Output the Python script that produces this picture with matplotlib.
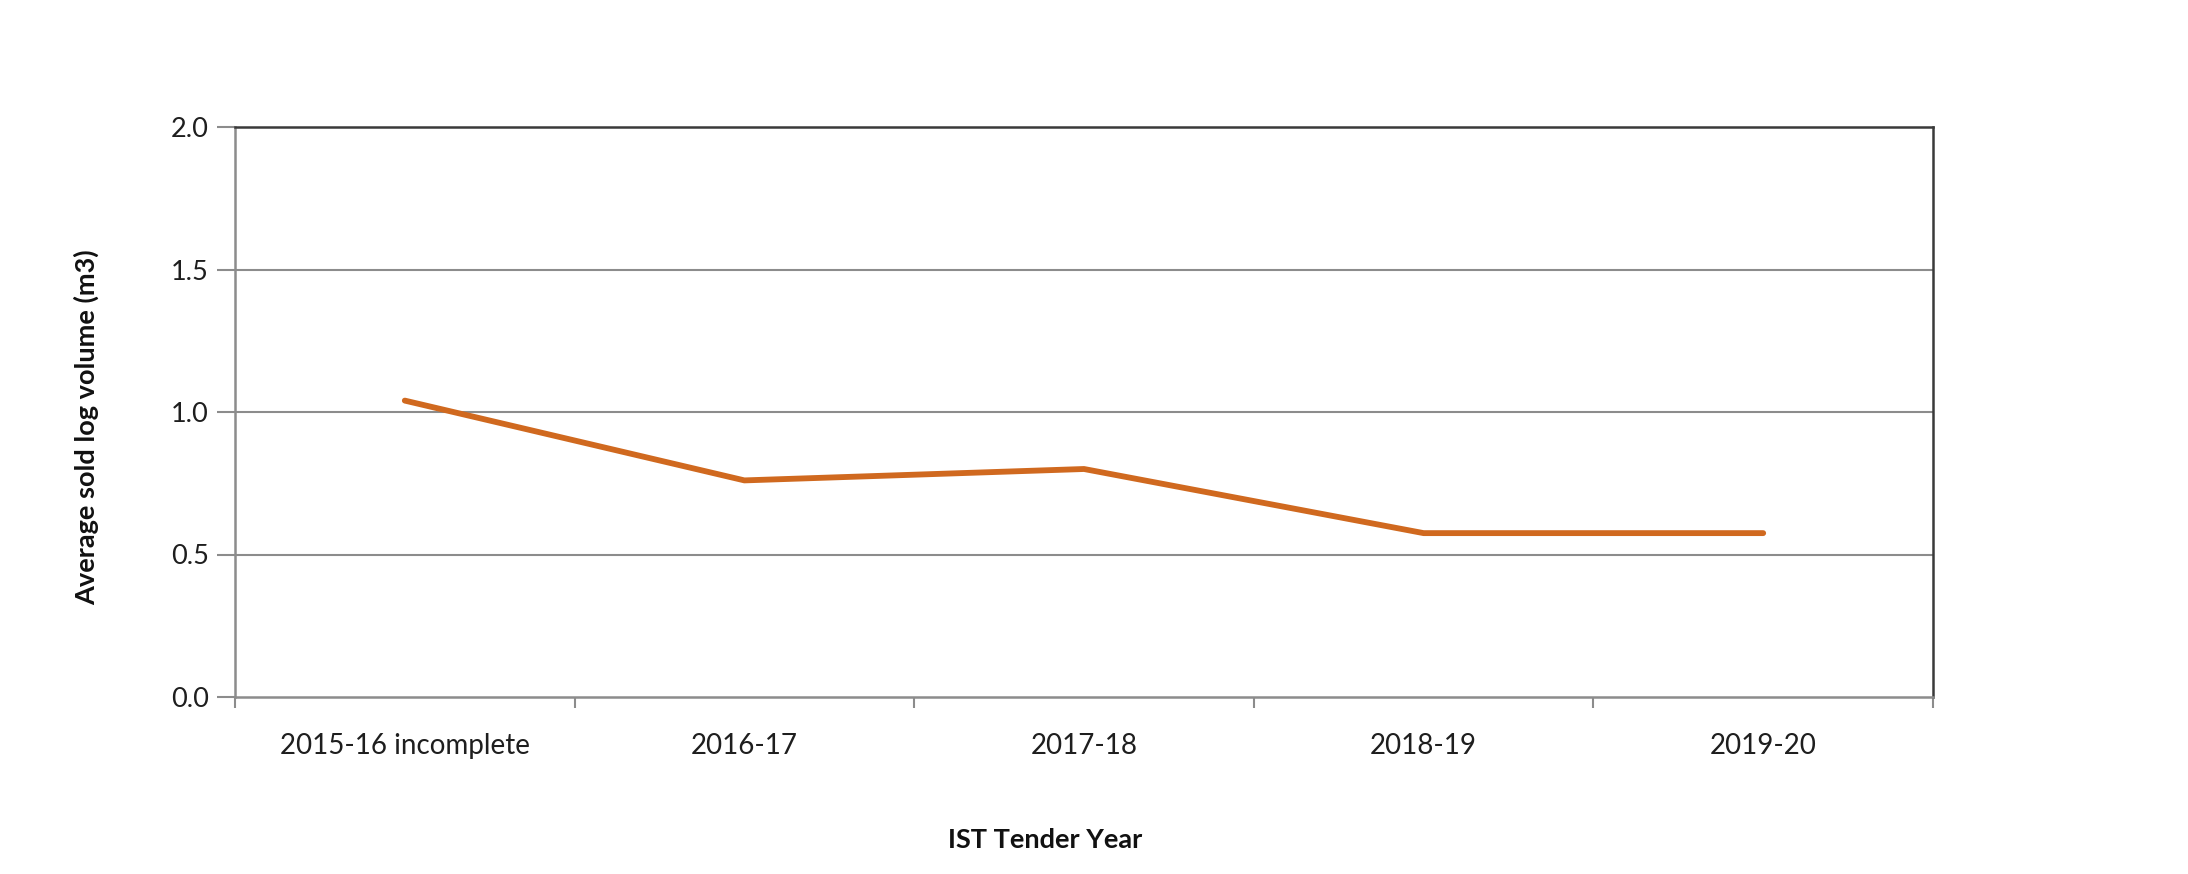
import matplotlib
matplotlib.use("Agg")
import matplotlib.pyplot as plt
import numpy as np

years = ["2015-16 incomplete", "2016-17", "2017-18", "2018-19", "2019-20"]
avg_volume = [1.04, 0.76, 0.80, 0.575, 0.575]
y_ticks = [0.0, 0.5, 1.0, 1.5, 2.0]

plt.rcParams['font.family'] = ['Lato', 'DejaVu Sans']

W, H = 2188, 874
fig = plt.figure(figsize=(W / 100, H / 100), dpi=100)
ax = fig.add_axes([235 / W, 1 - 697 / H, (1933 - 235) / W, (697 - 127) / H])

x = np.arange(len(years))
ax.plot(x, avg_volume, color="#D0691F", lw=4.2, solid_capstyle="round",
        solid_joinstyle="round", zorder=3)

ax.set_xlim(-0.5, len(years) - 0.5)
ax.set_ylim(0, 2.0)

grid_c = "#8c8c8c"
ax.set_yticks(y_ticks)
ax.set_yticklabels([f"{v:.1f}" for v in y_ticks], fontsize=19.5, color="#1e1e1e")
for v in y_ticks[1:-1]:
    ax.axhline(v, color=grid_c, lw=1.5, zorder=1)

# category ticks between categories, labels centred on categories
ax.set_xticks(np.arange(-0.5, len(years), 1.0))
ax.set_xticklabels([])
ax.set_xticks(x, minor=True)
ax.set_xticklabels(years, minor=True, fontsize=20, color="#1e1e1e")
ax.tick_params(axis="x", which="major", length=8, width=1.5, color=grid_c, direction="out")
ax.tick_params(axis="x", which="minor", length=0, pad=26)
ax.tick_params(axis="y", length=13, width=1.5, color=grid_c, pad=6)

ax.spines["left"].set_color(grid_c)
ax.spines["bottom"].set_color(grid_c)
ax.spines["top"].set_color("#3a3a3a")
ax.spines["right"].set_color("#3a3a3a")
for s in ax.spines.values():
    s.set_linewidth(1.8)

fig.text(86 / W, 1 - 427 / H, "Average sold log volume (m3)", rotation=90,
         ha="center", va="center", fontsize=19.5, fontweight="bold", color="#111111")
fig.text(1045 / W, 1 - 840 / H, "IST Tender Year", ha="center", va="center",
         fontsize=19.5, fontweight="bold", color="#111111")

fig.savefig("out.png", dpi=100)
